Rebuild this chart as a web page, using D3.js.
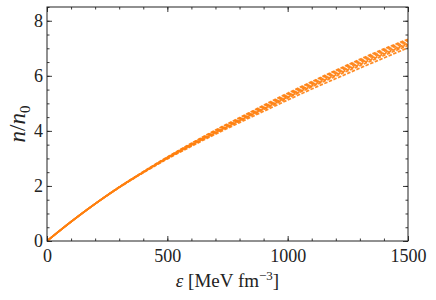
<!DOCTYPE html>
<html><head><meta charset="utf-8">
<script src="https://cdn.jsdelivr.net/npm/d3@7"></script>
<style>body{margin:0;background:#fff}svg{display:block}text{font-family:"Liberation Serif","DejaVu Serif",serif;fill:#222}</style>
</head><body><svg id="c" width="436" height="300"></svg>
<script>
const energies = [0,100,200,300,400,500,600,700,800,900,1000,1100,1200,1300,1400,1500];
const series1 = [0,0.70,1.35,1.94,2.48,2.98,3.44,3.88,4.30,4.71,5.12,5.52,5.90,6.28,6.65,7.02];
const series2 = [0,0.70,1.35,1.95,2.49,3.00,3.47,3.92,4.35,4.77,5.19,5.60,5.99,6.37,6.74,7.10];
const series3 = [0,0.70,1.35,1.95,2.50,3.02,3.50,3.95,4.39,4.82,5.25,5.67,6.07,6.46,6.83,7.18];
const series4 = [0,0.70,1.35,1.95,2.50,3.03,3.52,3.98,4.42,4.86,5.29,5.71,6.12,6.51,6.89,7.24];
const series5 = [0,0.70,1.35,1.96,2.51,3.04,3.54,4.01,4.46,4.90,5.33,5.76,6.17,6.56,6.94,7.29];
const series6 = [0,0.70,1.35,1.96,2.52,3.05,3.55,4.03,4.48,4.93,5.37,5.79,6.20,6.60,6.98,7.33];
const series7 = [0,0.70,1.35,1.95,2.50,3.01,3.48,3.93,4.37,4.80,5.22,5.63,6.03,6.42,6.79,7.15];
const allSeries = [series1,series2,series3,series4,series5,series6,series7];
const xTicks = [0,500,1000,1500];
const yTicks = [0,2,4,6,8];

const svg = d3.select("#c");
const L=47,R=408,T=7,B=241;
const x = d3.scaleLinear().domain([0,1500]).range([L,R]);
const y = d3.scaleLinear().domain([0,8.5]).range([B,T]);

svg.append("defs").append("clipPath").attr("id","clip").append("rect")
  .attr("x",L).attr("y",T).attr("width",R-L).attr("height",B-T);

const line = d3.line().x((d,i)=>x(energies[i])).y(d=>y(d)).curve(d3.curveMonotoneX);
svg.append("g").attr("clip-path","url(#clip)").selectAll("path").data(allSeries).join("path")
  .attr("d",line).attr("fill","none").attr("stroke","#ff7f0e").attr("stroke-width",1.7)
  .attr("stroke-dasharray","3.5,1.5").attr("stroke-dashoffset",(d,i)=>i*0.7).attr("opacity",0.9);

function axis(gen, tr, major, minor, labels){
  const g = svg.append("g").attr("transform",tr);
  g.call(gen.tickValues(minor).tickSize(2.5).tickFormat(""));
  const g2 = svg.append("g").attr("transform",tr);
  g2.call(gen.tickValues(major).tickSize(5).tickFormat(labels?d3.format("d"):""));
  [g,g2].forEach(gg=>{gg.select(".domain").remove();gg.selectAll("line").attr("stroke","#222").attr("stroke-width",0.9);});
  return g2;
}
const xMinor = d3.range(0,1501,100), yMinor = d3.range(0,8.51,0.5);
let gb = axis(d3.axisTop(x), `translate(0,${B})`, xTicks, xMinor, true);
gb.selectAll("text").attr("y",null).attr("dy",null).attr("transform",null)
  .attr("y",21).style("font-size","18px").attr("text-anchor","middle");
axis(d3.axisBottom(x), `translate(0,${T})`, xTicks, xMinor, false);
let gl = axis(d3.axisRight(y), `translate(${L},0)`, yTicks, yMinor, true);
gl.selectAll("text").attr("x",-4).attr("dy","0.33em").attr("text-anchor","end").style("font-size","18px");
axis(d3.axisLeft(y), `translate(${R},0)`, yTicks, yMinor, false);

svg.append("rect").attr("x",L).attr("y",T).attr("width",R-L).attr("height",B-T)
  .attr("fill","none").attr("stroke","#222").attr("stroke-width",1);

const xl = svg.append("text").attr("x",(L+R)/2).attr("y",287).attr("text-anchor","middle").style("font-size","19px");
xl.append("tspan").attr("font-style","italic").text("ε");
xl.append("tspan").text(" [MeV fm");
xl.append("tspan").attr("dy",-7).style("font-size","13px").text("−3");
xl.append("tspan").attr("dy",7).text("]");

const yl = svg.append("text").attr("transform",`translate(25,${(T+B)/2}) rotate(-90)`).attr("text-anchor","middle").style("font-size","23px");
yl.append("tspan").attr("font-style","italic").text("n");
yl.append("tspan").text("/");
yl.append("tspan").attr("font-style","italic").text("n");
yl.append("tspan").attr("dy",5).style("font-size","15px").text("0");
</script></body></html>
